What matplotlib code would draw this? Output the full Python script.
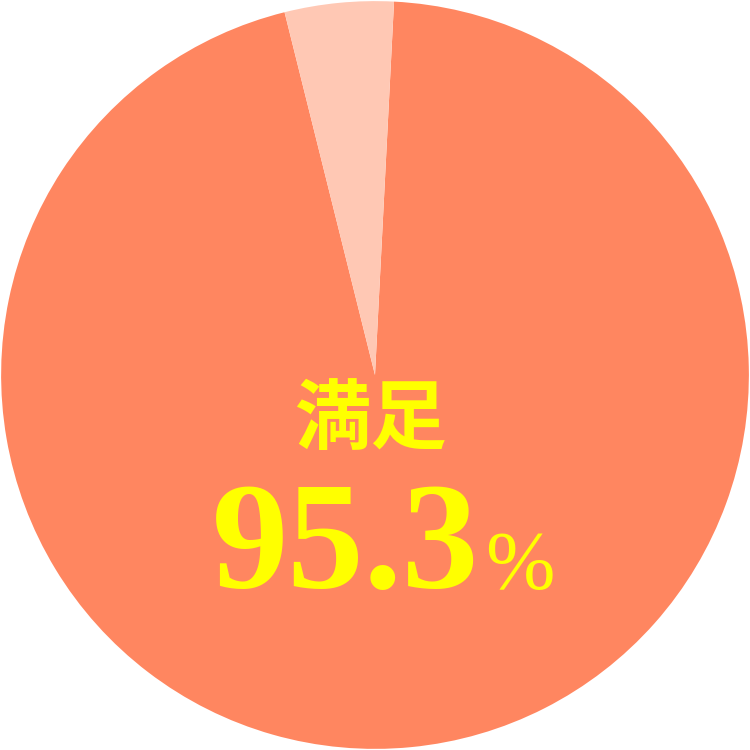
import matplotlib
matplotlib.use("Agg")
import matplotlib.pyplot as plt

labels = ["満足", "その他"]
values = [95.3, 4.7]
colors = ["#FF8660", "#FFC8B4"]
main_label = "満足"
main_value = "95.3"

fig = plt.figure(figsize=(7.5, 7.5), dpi=100)
ax = fig.add_axes([0, 0, 1, 1])

# small slice sits just left of 12 o'clock
ax.pie(values, colors=colors, startangle=104, counterclock=True,
       radius=1.0, wedgeprops=dict(linewidth=0))

ax.set_xlim(-1.003, 1.003)
ax.set_ylim(-1.003, 1.003)
ax.set_aspect("equal")
ax.axis("off")

ax.text(-0.013, -0.12, main_label, color="#FFFF00", fontsize=55,
        fontweight="bold", ha="center", va="center",
        family=["Noto Sans CJK JP", "DejaVu Sans"])
ax.text(-0.435, -0.57, main_value, color="#FFFF00", fontsize=110,
        fontweight="bold", ha="left", va="baseline",
        family=["Liberation Serif", "DejaVu Serif"])
ax.text(0.295, -0.57, "%", color="#FFFF00", fontsize=60,
        ha="left", va="baseline",
        family=["Liberation Serif", "DejaVu Serif"])

fig.savefig("out.png", dpi=100, facecolor="white")
